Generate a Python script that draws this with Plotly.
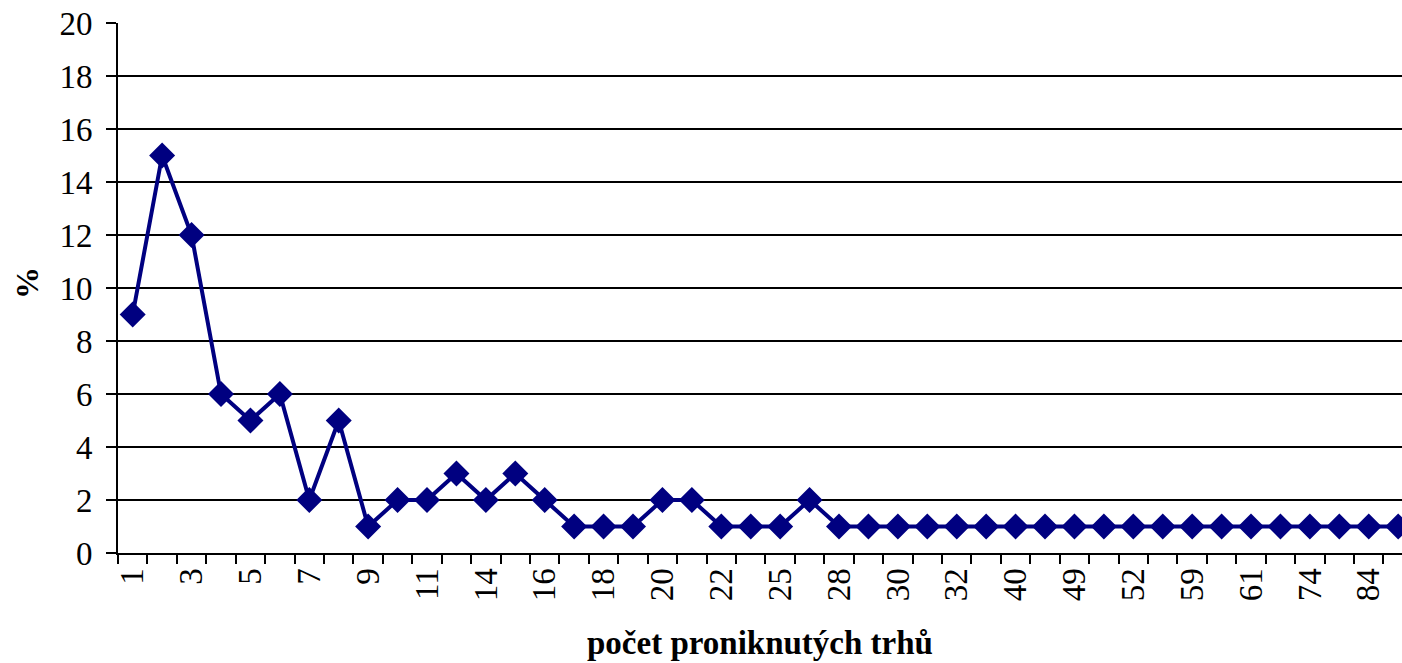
import plotly.graph_objects as go

# categories (number of penetrated markets); odd-index labels are hidden in the source, estimated
categories = ["1", "2", "3", "4", "5", "6", "7", "8", "9", "10", "11", "12", "14", "15", "16",
              "17", "18", "19", "20", "21", "22", "23", "25", "26", "28", "29", "30", "31",
              "32", "35", "40", "45", "49", "50", "52", "55", "59", "60", "61", "65", "74",
              "80", "84", "90"]
values = [9, 15, 12, 6, 5, 6, 2, 5, 1, 2, 2, 3, 2, 3, 2, 1, 1, 1, 2, 2, 1, 1, 1, 2,
          1, 1, 1, 1, 1, 1, 1, 1, 1, 1, 1, 1, 1, 1, 1, 1, 1, 1, 1, 1]
y_ticks = [0, 2, 4, 6, 8, 10, 12, 14, 16, 18, 20]

idx = list(range(len(categories)))
font = "Liberation Serif, Times New Roman, serif"
fs = 33

fig = go.Figure()
fig.add_trace(go.Scatter(
    x=idx, y=values, mode="lines+markers",
    line=dict(color="#000080", width=4),
    marker=dict(symbol="diamond", size=20, color="#000080"),
    cliponaxis=False,
))

fig.update_layout(
    width=1402, height=663,
    margin=dict(l=118, r=0, t=23, b=110),
    plot_bgcolor="white", paper_bgcolor="white",
    showlegend=False,
    font=dict(family=font, size=fs, color="black"),
    xaxis=dict(
        automargin=False,
        range=[-0.5, 43.13],
        tickmode="array",
        tickvals=idx[::2],
        ticktext=categories[::2],
        tickangle=-90,
        ticks="", ticklen=0,
        showgrid=False, zeroline=False,
        showline=True, linecolor="black", linewidth=2,
        tickfont=dict(family=font, size=fs, color="black"),
        minor=dict(tickmode="array", tickvals=[i - 0.5 for i in idx] + [len(idx) - 0.5],
                   ticks="outside", ticklen=9, tickwidth=2, tickcolor="black", showgrid=False),
    ),
    yaxis=dict(
        automargin=False,
        range=[0, 20],
        tickmode="array", tickvals=y_ticks,
        ticks="outside", ticklen=10, tickwidth=2, tickcolor="black",
        ticklabelstandoff=7,
        showgrid=True, gridcolor="black", gridwidth=2,
        zeroline=False,
        showline=True, linecolor="black", linewidth=2,
        tickfont=dict(family=font, size=fs, color="black"),
    ),
    annotations=[
        dict(text="<b>počet proniknutých trhů</b>", xref="paper", yref="paper",
             x=0.5, y=0, yshift=-90, xanchor="center", yanchor="middle",
             showarrow=False, font=dict(family=font, size=33, color="black")),
        dict(text="<b>%</b>", xref="paper", yref="paper",
             x=0, xshift=-91, y=0.5, yshift=5, xanchor="center", yanchor="middle", textangle=-90,
             showarrow=False, font=dict(family=font, size=32, color="black")),
    ],
)

fig.write_html(
    "out.html",
    config={"displayModeBar": False},
    post_script="document.body.style.margin='0';document.body.style.overflow='hidden';",
)
